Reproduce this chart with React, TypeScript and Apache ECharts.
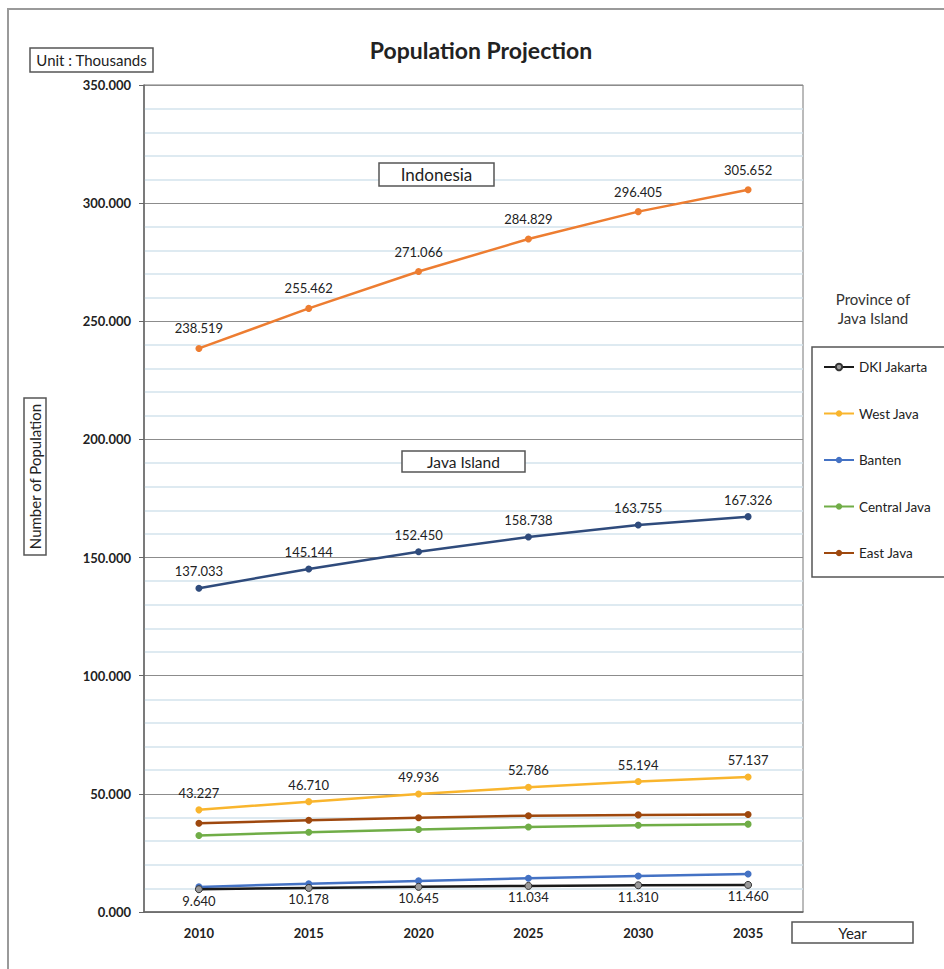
import React, { useEffect, useRef } from "react";
import * as echarts from "echarts";

// Projection years and populations (thousands)
const years = ["2010", "2015", "2020", "2025", "2030", "2035"];
const indonesia = [238519, 255462, 271066, 284829, 296405, 305652];
const javaIsland = [137033, 145144, 152450, 158738, 163755, 167326];
const dkiJakarta = [9640, 10178, 10645, 11034, 11310, 11460];
const westJava = [43227, 46710, 49936, 52786, 55194, 57137];
const banten = [10632, 11955, 13160, 14257, 15231, 16065];
const centralJava = [32383, 33774, 34940, 35959, 36737, 37180];
const eastJava = [37566, 38848, 39886, 40740, 41100, 41250];
const provinces = ["DKI Jakarta", "West Java", "Banten", "Central Java", "East Java"];

const FONT = "Lato, 'Liberation Sans', sans-serif";
const fmt = (v: number) => (v / 1000).toFixed(3);

function boxedText(
  text: string,
  x: number,
  y: number,
  w: number,
  h: number,
  fontSize: number,
  rotate = 0
): any {
  return {
    type: "group",
    x: x + w / 2,
    y: y + h / 2,
    silent: true,
    children: [
      {
        type: "rect",
        z: 100,
        shape: { x: -w / 2, y: -h / 2, width: w, height: h },
        style: { fill: "#fff", stroke: "#555", lineWidth: 1.5 },
      },
      {
        type: "text",
        z: 101,
        rotation: rotate,
        style: {
          text,
          x: 0,
          y: 0,
          align: "center",
          verticalAlign: "middle",
          font: `${fontSize}px ${FONT}`,
          fill: "#222",
        },
      },
    ],
  };
}

export default function App() {
  const ref = useRef<HTMLDivElement>(null);

  useEffect(() => {
    if (!ref.current) return;
    const chart = echarts.init(ref.current, null, { renderer: "svg" });

    const labelStyle = (position: "top" | "bottom", distance: number) => ({
      show: true,
      position,
      distance,
      formatter: (p: any) => fmt(p.value),
      fontFamily: FONT,
      fontSize: 13,
      color: "#222",
    });

    const mkSeries = (
      name: string,
      data: number[],
      color: string,
      label?: any,
      extra: any = {}
    ) => ({
      name,
      type: "line",
      data,
      symbol: "circle",
      symbolSize: 7,
      lineStyle: { width: 2.5, color },
      itemStyle: { color },
      label: label || { show: false },
      z: 3,
      ...extra,
    });

    chart.setOption({
      animation: false,
      backgroundColor: "#fff",
      title: {
        text: "Population Projection",
        left: 476,
        textAlign: "center",
        top: 33,
        textStyle: {
          fontFamily: FONT,
          fontSize: 23,
          fontWeight: "bold",
          color: "#222",
        },
      },
      grid: { left: 144, right: 141, top: 85, bottom: 57, show: true, borderColor: "#777", borderWidth: 1 },
      legend: {
        data: provinces,
        orient: "vertical",
        left: 818,
        top: 355,
        itemWidth: 30,
        itemHeight: 8,
        itemGap: 32.5,
        lineStyle: { width: 2 },
        textStyle: { fontFamily: FONT, fontSize: 13.5, color: "#222" },
        selectedMode: false,
      },
      xAxis: {
        type: "category",
        data: years,
        boundaryGap: true,
        axisLine: { lineStyle: { color: "#666", width: 1.5 } },
        axisTick: { alignWithLabel: true, length: 5, lineStyle: { color: "#666" } },
        axisLabel: {
          fontFamily: FONT,
          fontSize: 13,
          fontWeight: "bold",
          color: "#222",
          margin: 14,
        },
      },
      yAxis: {
        type: "value",
        min: 0,
        max: 350000,
        interval: 50000,
        axisLine: { show: true, lineStyle: { color: "#666", width: 1.5 } },
        axisTick: { show: true, length: 5, lineStyle: { color: "#666" } },
        axisLabel: {
          formatter: (v: number) => fmt(v),
          fontFamily: FONT,
          fontSize: 13,
          fontWeight: "bold",
          color: "#222",
          margin: 13,
        },
        splitLine: { show: true, lineStyle: { color: "#8c8c8c", width: 1 } },
        minorTick: { show: false, splitNumber: 5 },
        minorSplitLine: { show: true, lineStyle: { color: "#d3e3ec", width: 1.5 } },
      },
      series: [
        mkSeries("Indonesia", indonesia, "#ED7D31", labelStyle("top", 10)),
        mkSeries("Java Island", javaIsland, "#2F4B7C", labelStyle("top", 7)),
        mkSeries("DKI Jakarta", dkiJakarta, "#1a1a1a", labelStyle("bottom", 1), {
          itemStyle: { color: "#9a9a9a", borderColor: "#333", borderWidth: 1 },
          z: 5,
        }),
        mkSeries("West Java", westJava, "#F9B52D", labelStyle("top", 7)),
        mkSeries("Banten", banten, "#4472C4"),
        mkSeries("Central Java", centralJava, "#70AD47"),
        mkSeries("East Java", eastJava, "#9E480E"),
      ],
      graphic: [
        {
          type: "rect",
          silent: true,
          z: -10,
          shape: { x: 8, y: 9, width: 960, height: 980 },
          style: { fill: "none", stroke: "#9a9a9a", lineWidth: 2 },
        },
        boxedText("Unit : Thousands", 30, 48, 123, 24, 15),
        boxedText("Indonesia", 379, 163, 115, 23, 17),
        boxedText("Java Island", 402, 451, 123, 21, 15.5),
        boxedText("Number of Population", 24, 398, 22, 157, 15, Math.PI / 2),
        boxedText("Year", 792, 922, 121, 21, 15),
        {
          type: "rect",
          silent: true,
          z: -5,
          shape: { x: 812, y: 347, width: 140, height: 230 },
          style: { fill: "#fff", stroke: "#555", lineWidth: 1.5 },
        },
        {
          type: "text",
          silent: true,
          style: {
            text: "Province of\nJava Island",
            x: 873,
            y: 308,
            align: "center",
            verticalAlign: "middle",
            lineHeight: 19,
            font: `15px ${FONT}`,
            fill: "#333",
          },
        },
      ],
    });

    return () => chart.dispose();
  }, []);

  return (
    <div
      ref={ref}
      style={{ position: "fixed", left: 0, top: 0, width: 944, height: 969 }}
    />
  );
}
